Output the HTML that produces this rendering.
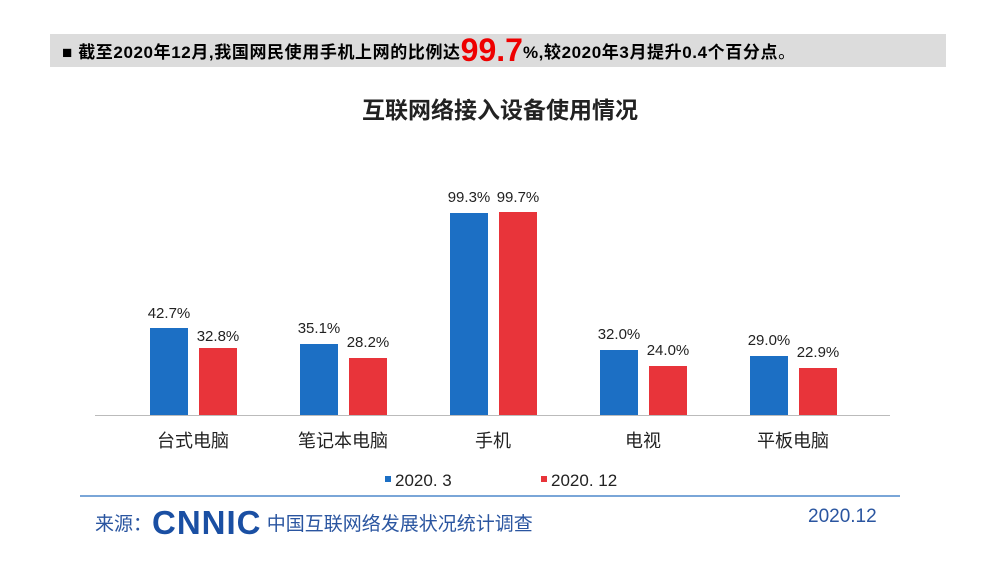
<!DOCTYPE html><html><head><meta charset="utf-8"><style>
body{margin:0;width:1000px;height:562px;background:#fff;overflow:hidden;font-family:"Liberation Sans","Noto Sans CJK SC",sans-serif;position:relative}
.a{position:absolute}
</style></head><body>
<div class="a" style="left:50px;top:34px;width:896px;height:33px;background:#dcdcdc"></div>
<div class="a" style="left:62px;top:37px;font-size:17px;font-weight:bold;color:#000;white-space:nowrap;line-height:26px;letter-spacing:0.6px">■ 截至2020年12月,我国网民使用手机上网的比例达<span style="color:#e00;font-size:32px;vertical-align:-3px;letter-spacing:0">99.7</span>%,较2020年3月提升0.4个百分点<span style="font-weight:normal">。</span></div>
<div class="a" style="left:0;width:1000px;top:91px;text-align:center;font-size:23px;font-weight:bold;color:#222">互联网络接入设备使用情况</div>
<svg class="a" style="left:0;top:0" width="1000" height="562">
<g font-family="Liberation Sans" font-size="15" fill="#222" text-anchor="middle">
<line x1="95" y1="415.5" x2="890" y2="415.5" stroke="#bbb"/>
<rect x="150" y="328" width="38" height="87" fill="#1c6fc4"/><rect x="199" y="348" width="38" height="67" fill="#e8343a"/>
<text x="169" y="318">42.7%</text><text x="218" y="341">32.8%</text>
<rect x="300" y="344" width="38" height="71" fill="#1c6fc4"/><rect x="349" y="358" width="38" height="57" fill="#e8343a"/>
<text x="319" y="333">35.1%</text><text x="368" y="347">28.2%</text>
<rect x="450" y="213" width="38" height="202" fill="#1c6fc4"/><rect x="499" y="212" width="38" height="203" fill="#e8343a"/>
<text x="469" y="202">99.3%</text><text x="518" y="202">99.7%</text>
<rect x="600" y="350" width="38" height="65" fill="#1c6fc4"/><rect x="649" y="366" width="38" height="49" fill="#e8343a"/>
<text x="619" y="339">32.0%</text><text x="668" y="355">24.0%</text>
<rect x="750" y="356" width="38" height="59" fill="#1c6fc4"/><rect x="799" y="368" width="38" height="47" fill="#e8343a"/>
<text x="769" y="345">29.0%</text><text x="818" y="357">22.9%</text>
<g font-family="Noto Sans CJK SC" font-size="18">
<text x="193" y="447">台式电脑</text><text x="343" y="447">笔记本电脑</text><text x="493" y="447">手机</text><text x="643" y="447">电视</text><text x="793" y="447">平板电脑</text>
</g>
<g font-size="17">
<rect x="385" y="476" width="6" height="6" fill="#1c6fc4"/><text x="395" y="486" text-anchor="start">2020. 3</text>
<rect x="541" y="476" width="6" height="6" fill="#e8343a"/><text x="551" y="486" text-anchor="start">2020. 12</text>
</g>
</g>
<line x1="80" y1="496" x2="900" y2="496" stroke="#7aa6d8" stroke-width="2"/>
</svg>
<div class="a" style="left:95px;top:504px;font-size:19px;color:#2a55a0;white-space:nowrap">来源：<span style="font-weight:900;font-size:33px;letter-spacing:1px;color:#1a4fa3;vertical-align:-4px">CNNIC</span> 中国互联网络发展状况统计调查</div>
<div class="a" style="left:808px;top:506px;font-size:19px;color:#2a55a0">2020.12</div>
</body></html>
